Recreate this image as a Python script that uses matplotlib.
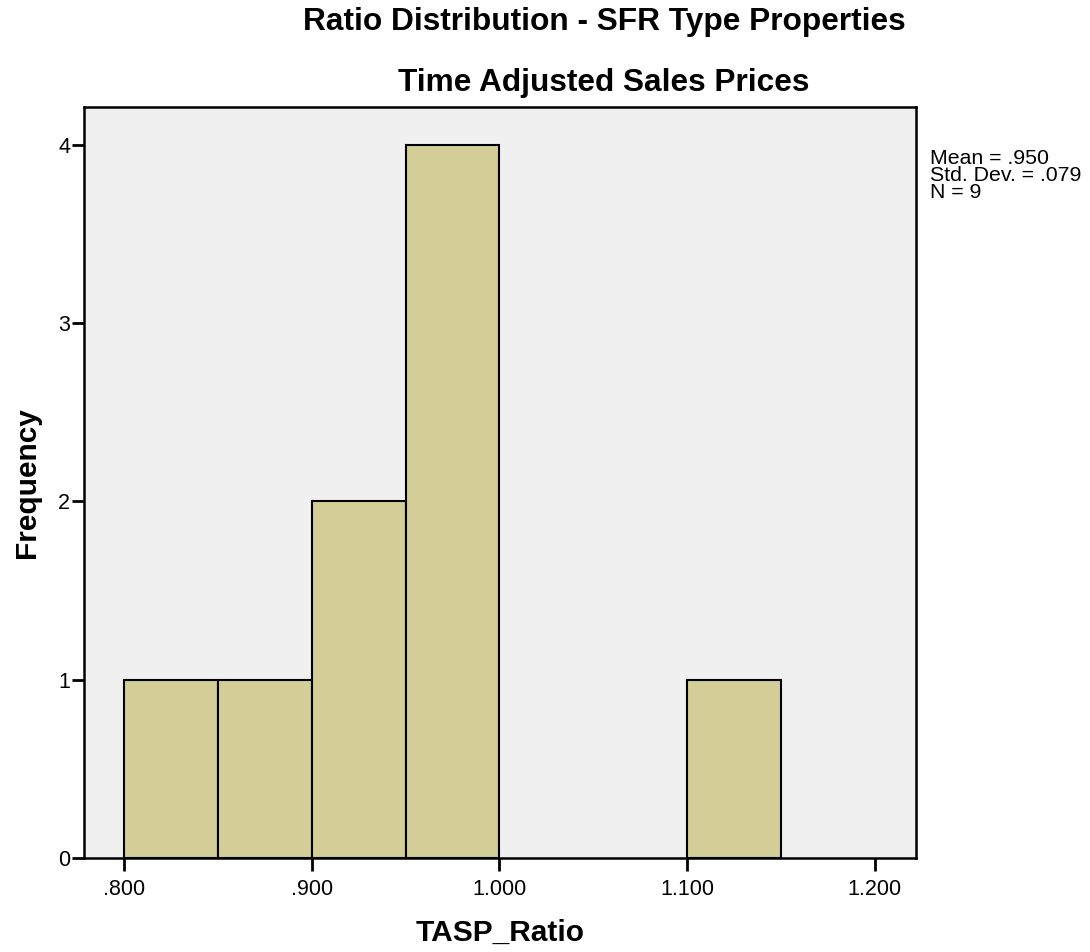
import matplotlib
matplotlib.use("Agg")
import matplotlib.pyplot as plt

plt.rcParams['font.family'] = ['Liberation Sans', 'DejaVu Sans']

# histogram bins (left edges) and counts
bin_left = [0.80, 0.85, 0.90, 0.95, 1.10]
bin_width = 0.05
counts = [1, 1, 2, 4, 1]
xticks = [0.8, 0.9, 1.0, 1.1, 1.2]
xtick_labels = ['.800', '.900', '1.000', '1.100', '1.200']
yticks = [0, 1, 2, 3, 4]
stats_text = "Mean = .950\nStd. Dev. = .079\nN = 9"

fig = plt.figure(figsize=(10.9, 9.52), dpi=100)
ax = fig.add_axes([84/1090, 94/952, 832/1090, 751/952])
ax.set_facecolor('#f0f0f0')

ax.bar(bin_left, counts, width=bin_width, align='edge', color='#d3ce98',
       edgecolor='black', linewidth=1.5, zorder=3)

ax.set_xlim(0.7787, 1.2219)
ax.set_ylim(0, 4.213)
ax.set_xticks(xticks)
ax.set_xticklabels(xtick_labels)
ax.set_yticks(yticks)
ax.tick_params(axis='both', direction='out', labelsize=15.5, width=2, length=9)
ax.tick_params(axis='x', pad=6)
ax.tick_params(axis='y', pad=1)
for s in ax.spines.values():
    s.set_linewidth(1.8)

ax.set_xlabel('TASP_Ratio', fontsize=21.5, fontweight='bold', labelpad=14)
ax.set_ylabel('Frequency', fontsize=21.5, fontweight='bold', labelpad=12)

fig.text(604/1090, 1 - 22/952, 'Ratio Distribution - SFR Type Properties',
         ha='center', va='center', fontsize=22.8, fontweight='bold')
fig.text(604/1090, 1 - 83/952, 'Time Adjusted Sales Prices',
         ha='center', va='center', fontsize=22.8, fontweight='bold')
fig.text(930/1090, 1 - 149/952, stats_text, ha='left', va='top',
         fontsize=15.3, linespacing=0.86)

fig.savefig('out.png', dpi=100)
